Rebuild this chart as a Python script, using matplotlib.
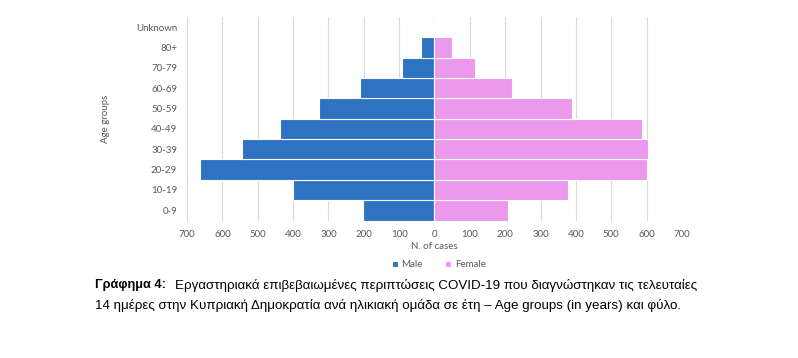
import numpy as np
import matplotlib.pyplot as plt
from matplotlib.ticker import FuncFormatter, MultipleLocator

AGE_GROUPS = ['0-9', '10-19', '20-29', '30-39', '40-49', '50-59', '60-69', '70-79', '80+', 'Unknown']
MALE = [203, 401, 664, 543, 437, 327, 212, 91, 39, 0]
FEMALE = [208, 379, 601, 604, 587, 389, 220, 114, 50, 0]

MALE_COLOR = '#2E72C2'
FEMALE_COLOR = '#EC98EC'
TEXT_GRAY = '#595959'

W, H = 798, 358
fig = plt.figure(figsize=(W / 100, H / 100), dpi=100)
ax = fig.add_axes([0.2343, 0.384, 0.6203, 0.569])

pos = np.arange(len(AGE_GROUPS))
ax.barh(pos, -np.asarray(MALE), height=1.0, color=MALE_COLOR, edgecolor='white', linewidth=0.8, label='Male')
ax.barh(pos, FEMALE, height=1.0, color=FEMALE_COLOR, edgecolor='white', linewidth=0.8, label='Female')

ax.set_xlim(-700, 700)
ax.set_ylim(-0.5, len(AGE_GROUPS) - 0.5)
ax.xaxis.set_major_locator(MultipleLocator(100))
ax.xaxis.set_major_formatter(FuncFormatter(lambda v, p: '%d' % abs(round(v))))
ax.set_yticks(pos)
ax.set_yticklabels(AGE_GROUPS)

ax.grid(axis='x', color='#D9D9D9', linewidth=0.8)
ax.set_axisbelow(True)
for s in ax.spines.values():
    s.set_visible(False)
ax.tick_params(length=0, labelsize=7, colors=TEXT_GRAY, pad=7)
for lbl in ax.get_xticklabels() + ax.get_yticklabels():
    lbl.set_family('Lato')

ax.set_xlabel('N. of cases', fontsize=7, color=TEXT_GRAY, family='Lato', labelpad=2)
ax.set_ylabel('Age groups', fontsize=7, color=TEXT_GRAY, family='Lato', labelpad=19)

leg = fig.legend(loc='center', bbox_to_anchor=(0.55, 0.26), ncol=2, frameon=False,
                 handlelength=0.6, handleheight=0.6, columnspacing=2.3, handletextpad=0.4,
                 prop={'family': 'Lato', 'size': 7})
for t in leg.get_texts():
    t.set_color(TEXT_GRAY)

# caption, positions in pixels
fig.text(95 / W, 1 - 285 / H, 'Γράφημα 4:', fontsize=9.2, fontweight='bold', family='Liberation Sans', va='center')
fig.text(175 / W, 1 - 285 / H, 'Εργαστηριακά επιβεβαιωμένες περιπτώσεις COVID-19 που διαγνώστηκαν τις τελευταίες',
         fontsize=9.65, family='Liberation Sans', va='center')
fig.text(95 / W, 1 - 305 / H, '14 ημέρες στην Κυπριακή Δημοκρατία ανά ηλικιακή ομάδα σε έτη – Age groups (in years) και φύλο.',
         fontsize=9.65, family='Liberation Sans', va='center')

fig.savefig('out.png', dpi=100)
